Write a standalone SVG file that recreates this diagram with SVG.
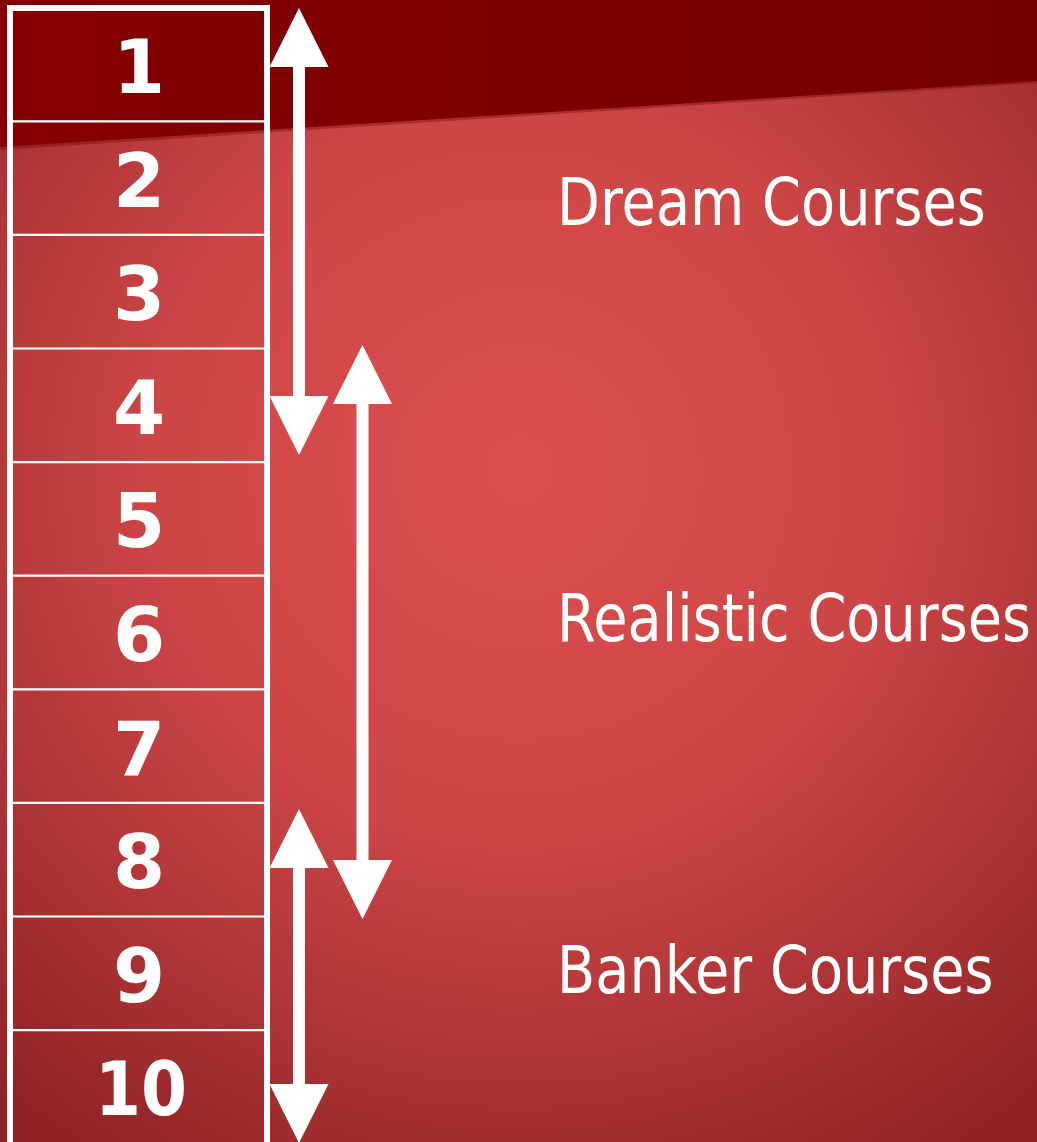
<svg xmlns="http://www.w3.org/2000/svg" width="1037" height="1142" viewBox="0 0 1037 1142">
  <defs>
    <radialGradient id="bg" gradientUnits="userSpaceOnUse" cx="520" cy="470" r="820" fx="520" fy="470">
      <stop offset="0" stop-color="#dd4f4f"/>
      <stop offset="0.45" stop-color="#cc4646"/>
      <stop offset="1" stop-color="#8e2225"/>
    </radialGradient>
    <linearGradient id="band" x1="0" y1="0" x2="1" y2="0">
      <stop offset="0" stop-color="#860000"/>
      <stop offset="1" stop-color="#730000"/>
    </linearGradient>
    <marker id="head" markerUnits="userSpaceOnUse" markerWidth="60" markerHeight="60" refX="0" refY="29.5" orient="auto-start-reverse" overflow="visible">
      <path d="M0,0 L59,29.5 L0,59 Z" fill="#ffffff"/>
    </marker>
  </defs>
  <style>
    .num { font-family: "DejaVu Sans", Verdana, sans-serif; font-weight: bold; font-size: 75px; fill: #ffffff; text-anchor: middle; }
    .lbl { font-family: "DejaVu Sans", Verdana, sans-serif; font-size: 66px; fill: #ffffff; }
    .cell { fill: none; stroke: #ffffff; stroke-width: 2.2; }
    .arrow { stroke: #ffffff; stroke-width: 12; fill: none; marker-start: url(#head); marker-end: url(#head); }
  </style>

  <rect x="0" y="0" width="1037" height="1142" fill="url(#bg)"/>
  <polygon points="0,0 1037,0 1037,83 0,150" fill="#6a0000" opacity="0.35"/>
  <polygon points="0,0 1037,0 1037,81 0,147" fill="url(#band)"/>

  <g id="column">
    <rect x="10" y="8" width="257" height="1140" fill="none" stroke="#ffffff" stroke-width="6"/>
    <line class="cell" x1="12" y1="121.3" x2="265" y2="121.3"/>
    <line class="cell" x1="12" y1="234.9" x2="265" y2="234.9"/>
    <line class="cell" x1="12" y1="348.5" x2="265" y2="348.5"/>
    <line class="cell" x1="12" y1="462.1" x2="265" y2="462.1"/>
    <line class="cell" x1="12" y1="575.7" x2="265" y2="575.7"/>
    <line class="cell" x1="12" y1="689.3" x2="265" y2="689.3"/>
    <line class="cell" x1="12" y1="802.9" x2="265" y2="802.9"/>
    <line class="cell" x1="12" y1="916.5" x2="265" y2="916.5"/>
    <line class="cell" x1="12" y1="1030.1" x2="265" y2="1030.1"/>
  </g>

  <g id="cell1"><text class="num" x="139" y="93">1</text></g>
  <g id="cell2"><text class="num" x="139" y="206.6">2</text></g>
  <g id="cell3"><text class="num" x="139" y="320.2">3</text></g>
  <g id="cell4"><text class="num" x="139" y="433.8">4</text></g>
  <g id="cell5"><text class="num" x="139" y="547.4">5</text></g>
  <g id="cell6"><text class="num" x="139" y="661">6</text></g>
  <g id="cell7"><text class="num" x="139" y="774.6">7</text></g>
  <g id="cell8"><text class="num" x="139" y="888.2">8</text></g>
  <g id="cell9"><text class="num" x="139" y="1001.8">9</text></g>
  <g id="cell10"><text class="num" x="141" y="1115.4" textLength="92" lengthAdjust="spacingAndGlyphs">10</text></g>

  <g id="connectors">
    <line class="arrow" x1="299" y1="67" x2="299" y2="396"/>
    <line class="arrow" x1="362.5" y1="404" x2="362.5" y2="860"/>
    <line class="arrow" x1="299" y1="868" x2="299" y2="1084"/>
  </g>

  <g id="dream"><text class="lbl" transform="translate(557,225) scale(0.845,1)" x="0" y="0">Dream Courses</text></g>
  <g id="realistic"><text class="lbl" transform="translate(557,641) scale(0.845,1)" x="0" y="0">Realistic Courses</text></g>
  <g id="banker"><text class="lbl" transform="translate(557,993) scale(0.845,1)" x="0" y="0">Banker Courses</text></g>
</svg>
